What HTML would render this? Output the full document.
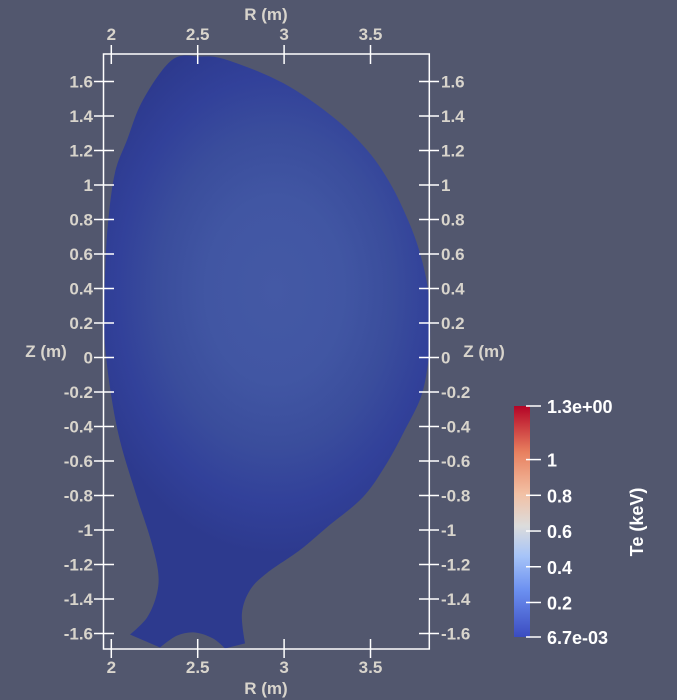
<!DOCTYPE html>
<html><head><meta charset="utf-8"><style>
body{margin:0;background:#52576e;}
svg{display:block;font-family:"Liberation Sans",sans-serif;font-weight:bold;}
</style></head><body>
<svg id="chart" width="677" height="700">
<defs>
<radialGradient id="plasma" cx="275" cy="290" r="230" gradientUnits="userSpaceOnUse" gradientTransform="translate(275 290) scale(0.85 1.15) translate(-275 -290)">
<stop offset="0" stop-color="#4459a5"/><stop offset="0.35" stop-color="#4156a3"/><stop offset="0.6" stop-color="#3a4d9c"/><stop offset="0.8" stop-color="#32419a"/><stop offset="1" stop-color="#2d3a8e"/>
</radialGradient>
<linearGradient id="cbar" x1="0" y1="1" x2="0" y2="0">
<stop offset="0" stop-color="#3b4cc0"/><stop offset="0.2" stop-color="#6b8ff0"/><stop offset="0.35" stop-color="#a6c4f8"/>
<stop offset="0.48" stop-color="#dcdcdc"/><stop offset="0.62" stop-color="#f2c0a4"/><stop offset="0.8" stop-color="#e8805f"/><stop offset="1" stop-color="#b40426"/>
</linearGradient>
</defs>
<g id="plot"></g>
</svg>
<script>
const rTicks=[2,2.5,3,3.5];
const zTicks=[1.6,1.4,1.2,1,0.8,0.6,0.4,0.2,0,-0.2,-0.4,-0.6,-0.8,-1,-1.2,-1.4,-1.6];
const boundaryR=[2.513,2.670,2.994,3.283,3.480,3.613,3.717,3.786,3.833,3.845,3.833,3.792,3.699,3.595,3.457,3.249,3.092,2.901,2.803,2.756,2.774,2.658,2.589,2.484,2.380,2.282,2.108,2.207,2.264,2.270,2.224,2.149,2.050,1.992,1.958,1.964,1.981,2.021,2.091,2.183,2.351];
const boundaryZ=[1.745,1.725,1.591,1.394,1.203,1.011,0.797,0.606,0.391,0.159,-0.032,-0.229,-0.420,-0.612,-0.809,-0.983,-1.116,-1.249,-1.348,-1.484,-1.657,-1.687,-1.629,-1.594,-1.612,-1.681,-1.606,-1.507,-1.368,-1.235,-1.043,-0.812,-0.481,-0.171,0.159,0.490,0.780,1.070,1.261,1.493,1.725];
const cbTicks=[0.2,0.4,0.6,0.8,1];
const cbMin=0.0067, cbMax=1.3;
const cbMinLabel="6.7e-03", cbMaxLabel="1.3e+00";

const NS="http://www.w3.org/2000/svg";
const g=document.getElementById('plot');
const xR=r=>111.3+(r-2)*172.8;
const yZ=z=>357.5-z*172.5;
function mk(t,a,txt){const e=document.createElementNS(NS,t);for(const k in a)e.setAttribute(k,a[k]);if(txt!==undefined)e.textContent=txt;g.appendChild(e);return e;}

const sharp=new Set([20,21,25,26]);
const pts=boundaryR.map((r,i)=>[xR(r),yZ(boundaryZ[i])]);
let d='M'+pts[0].join(',');
const n=pts.length;
for(let i=0;i<n;i++){
 const i2=(i+1)%n;
 const p0=pts[(i-1+n)%n],p1=pts[i],p2=pts[i2],p3=pts[(i+2)%n];
 if(sharp.has(i)&&sharp.has(i2)){d+=`L${p2[0]},${p2[1]}`;continue;}
 const k1=sharp.has(i)?0:1/6,k2=sharp.has(i2)?0:1/6;
 const c1=[p1[0]+(p2[0]-p0[0])*k1,p1[1]+(p2[1]-p0[1])*k1];
 const c2=[p2[0]-(p3[0]-p1[0])*k2,p2[1]-(p3[1]-p1[1])*k2];
 d+=`C${c1[0]},${c1[1]} ${c2[0]},${c2[1]} ${p2[0]},${p2[1]}`;
}
let e=mk('path',{d:d+'Z',fill:'url(#plasma)'});



e=mk('rect',{x:103.5,y:54,width:325.8,height:595,fill:'none',stroke:'#fff','stroke-width':1.5});



const lab='#d8d4cc';
rTicks.forEach(r=>{
 const x=xR(r);
 mk('line',{x1:x,x2:x,y1:45,y2:64,stroke:'#fff','stroke-width':1.5});
 mk('line',{x1:x,x2:x,y1:639,y2:658,stroke:'#fff','stroke-width':1.5});
 e=mk('text',{x:x,y:40,'text-anchor':'middle','font-size':17,fill:lab},String(r));
 
 
 e=mk('text',{x:x,y:673,'text-anchor':'middle','font-size':17,fill:lab},String(r));
 
 
});
zTicks.forEach(z=>{
 const y=yZ(z);
 mk('line',{x1:94,x2:114,y1:y,y2:y,stroke:'#fff','stroke-width':1.5});
 mk('line',{x1:419,x2:439,y1:y,y2:y,stroke:'#fff','stroke-width':1.5});
 e=mk('text',{x:93,y:y+6,'text-anchor':'end','font-size':17,fill:lab},String(z));
 
 
 e=mk('text',{x:441,y:y+6,'text-anchor':'start','font-size':17,fill:lab},String(z));
 
 
});
e=mk('text',{x:266,y:20,'text-anchor':'middle','font-size':17,fill:lab},'R (m)');


e=mk('text',{x:266,y:694,'text-anchor':'middle','font-size':17,fill:lab},'R (m)');


e=mk('text',{x:46,y:357,'text-anchor':'middle','font-size':17,fill:lab},'Z (m)');


e=mk('text',{x:484,y:357,'text-anchor':'middle','font-size':17,fill:lab},'Z (m)');



const cbTop=406,cbBot=637;
const yC=v=>cbBot-(v-cbMin)/(cbMax-cbMin)*(cbBot-cbTop);
e=mk('rect',{x:514,y:cbTop,width:16,height:cbBot-cbTop,fill:'url(#cbar)'});


const cbAll=[[cbMin,cbMinLabel],...cbTicks.map(v=>[v,String(v)]),[cbMax,cbMaxLabel]];
cbAll.forEach(([v,t])=>{
 const y=yC(v);
 mk('line',{x1:526,x2:541,y1:y,y2:y,stroke:'#fff','stroke-width':1.5});
 e=mk('text',{x:547,y:y+7,'font-size':18,fill:'#fff'},t);
 
 
});
e=mk('text',{x:0,y:0,'text-anchor':'middle','font-size':18,fill:'#fff',transform:'translate(643,522) rotate(-90)'},'Te (keV)');


</script>
</body></html>
